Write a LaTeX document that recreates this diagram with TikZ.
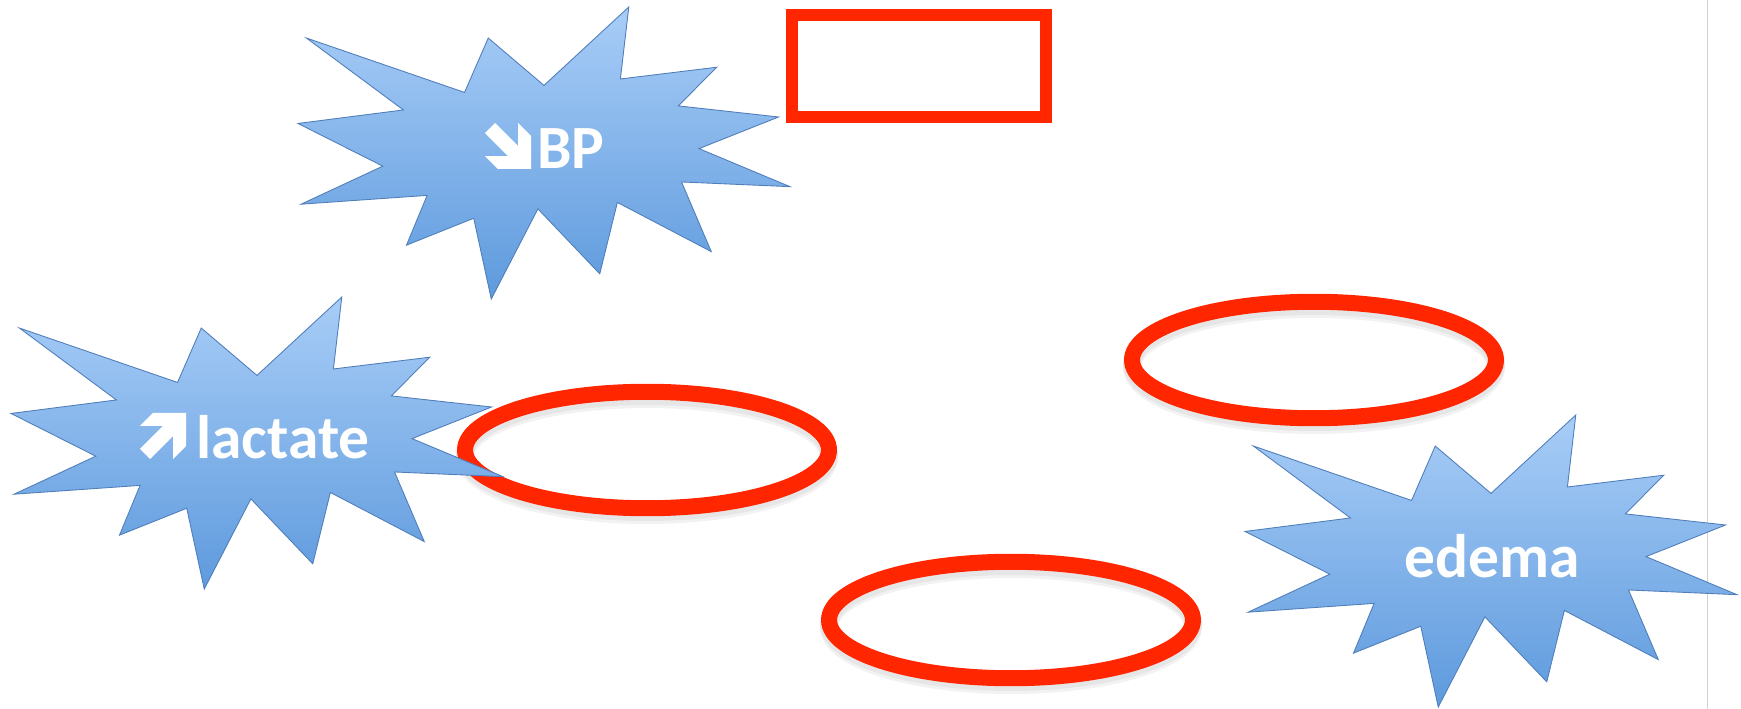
\documentclass[tikz,border=0pt]{standalone}
\usepackage{fontspec}
\setmainfont{Carlito}
\usetikzlibrary{positioning,shapes.geometric}
\definecolor{keyred}{RGB}{255,38,0}
\definecolor{burstlight}{RGB}{168,205,247}
\definecolor{burstdark}{RGB}{94,154,221}
\definecolor{burstedge}{RGB}{80,126,186}

\begin{document}
\begin{tikzpicture}[
  x=0.02cm, y=-0.02cm,
  lbl/.style={text=white, font=\fontsize{35}{40}\selectfont\bfseries, inner sep=0pt},
  burst/.style={draw=burstedge, line width=0.5pt, top color=burstlight, bottom color=burstdark},
  oval/.style={ellipse, draw=keyred, line width=0.32cm, minimum width=7.28cm, minimum height=2.33cm, inner sep=0pt},
  holder/.style={rectangle, draw=keyred, line width=0.24cm, minimum width=5.08cm, minimum height=2.06cm, inner sep=0pt},
  halo/.style={draw=black, opacity=0.05, line width=0.36cm}
]
  \useasboundingbox (0,0) rectangle (1741,709);
  \draw[gray!35, line width=0.03cm] (1707.5,0) -- (1707.5,709);

  % empty slots
  \foreach \x/\y in {647/450, 1314/360, 1011/620} {
    \draw[halo] (\x,\y+4) ellipse [x radius=182, y radius=58];
    \draw[halo] (\x,\y+7) ellipse [x radius=182, y radius=58];
  }
  \node[oval] (slotA) at (647,450) {};
  \node[oval] (slotB) at (1314,360) {};
  \node[oval] (slotC) at (1011,620) {};
  \node[holder] (slotD) at (919,66) {};

  % bursts
  \foreach \sx/\sy in {298/7, 11/297, 1245/415}
    \draw[burst, shift={(\sx,\sy)}, xscale=4.92, yscale=2.92]
      (50,26.85) -- (67.23,0) -- (65.53,24.65) -- (85.09,20.63) -- (77.32,33.87)
      -- (97.67,37.67) -- (81.51,48.50) -- (100,61.53) -- (77.95,59.92)
      -- (84.00,83.77) -- (64.91,66.93) -- (61.33,91.38) -- (48.76,69.14)
      -- (39.28,100) -- (35.72,72.35) -- (22.05,81.56) -- (26.24,64.52)
      -- (0.63,67.53) -- (17.23,54.51) -- (0,39.88) -- (21.42,35.26)
      -- (1.71,10.63) -- (33.85,29.26) -- (38.67,10.63) -- cycle;

  \node[lbl, anchor=base west] (bp) at (537,169) {BP};
  \node[lbl, anchor=base west] (lactate) at (196,459) {lactate};
  \node[lbl, anchor=base] (edema) at (1492,577) {edema};

  % arrow marks in front of the labels
  \fill[white, shift={(bp.base west)}, shift={(-52,-46)}, scale=46]
    (0.22,0) -- (0.72,0.50) -- (0.72,0) -- (1,0.28) -- (1,1) -- (0.28,1)
    -- (0,0.72) -- (0.50,0.72) -- (0,0.22) -- cycle;
  \fill[white, shift={(lactate.base west)}, shift={(-56,0)}, xscale=46, yscale=-46]
    (0.22,0) -- (0.72,0.50) -- (0.72,0) -- (1,0.28) -- (1,1) -- (0.28,1)
    -- (0,0.72) -- (0.50,0.72) -- (0,0.22) -- cycle;
\end{tikzpicture}
\end{document}
